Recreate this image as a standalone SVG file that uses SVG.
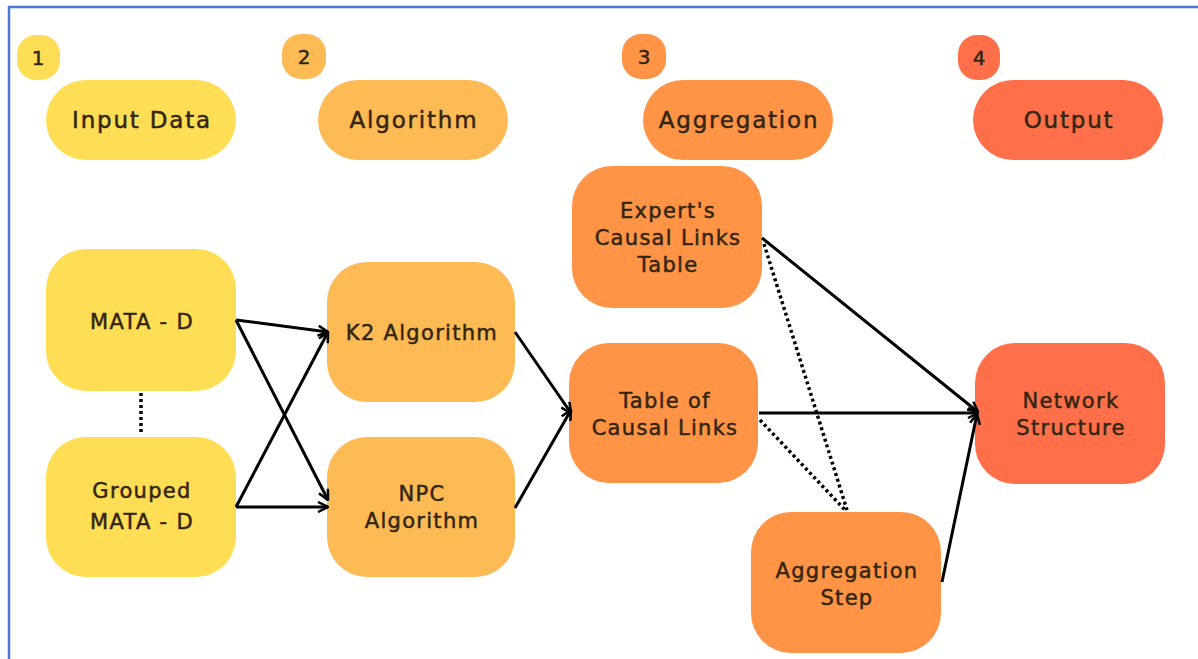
<svg xmlns="http://www.w3.org/2000/svg" width="1198" height="659" viewBox="0 0 1198 659">
<style>
text{font-family:"DejaVu Sans","Open Sans",sans-serif;fill:#33260f;stroke:#33260f;stroke-width:0.5px;text-anchor:middle}
.lbl{font-size:21px;letter-spacing:1.3px}
.hd{font-size:23px;letter-spacing:1.8px}
.num{font-size:20px}
.c1{fill:#ffdd55}.c2{fill:#fdba55}.c3{fill:#ff9447}.c4{fill:#ff704a}
.ln{stroke:#000;stroke-width:3;fill:none}
.dot{stroke:#000;stroke-width:3.5;fill:none;stroke-dasharray:3 3}
</style>
<defs>
<marker id="ar" viewBox="0 0 12 12" refX="11" refY="6" markerWidth="12" markerHeight="12" markerUnits="userSpaceOnUse" orient="auto">
<path d="M1,1 L11,6 L1,11" fill="none" stroke="#000" stroke-width="2.5"/>
</marker>
</defs>
<rect width="1198" height="659" fill="#fff"/>
<path d="M9,659 V7 H1198" fill="none" stroke="#4a78d4" stroke-width="2.5"/>

<g id="badge1"><rect class="c1" x="17" y="35" width="43" height="45" rx="19"/><text class="num" x="38" y="65">1</text></g>
<g id="badge2"><rect class="c2" x="282" y="34" width="44" height="45" rx="19"/><text class="num" x="304" y="64">2</text></g>
<g id="badge3"><rect class="c3" x="622" y="34" width="44" height="45" rx="19"/><text class="num" x="644" y="64">3</text></g>
<g id="badge4"><rect class="c4" x="958" y="35" width="42" height="45" rx="19"/><text class="num" x="979" y="65">4</text></g>

<g id="hInput"><rect class="c1" x="46" y="80" width="190" height="80" rx="40"/><text class="hd" x="142" y="128">Input Data</text></g>
<g id="hAlgorithm"><rect class="c2" x="318" y="80" width="190" height="80" rx="40"/><text class="hd" x="414" y="128">Algorithm</text></g>
<g id="hAggregation"><rect class="c3" x="643" y="80" width="190" height="80" rx="40"/><text class="hd" x="739" y="128">Aggregation</text></g>
<g id="hOutput"><rect class="c4" x="973" y="80" width="190" height="80" rx="40"/><text class="hd" x="1069" y="128">Output</text></g>

<g id="mata"><rect class="c1" x="46" y="249" width="190" height="142" rx="40"/><text class="lbl" x="142" y="329">MATA - D</text></g>
<g id="grouped"><rect class="c1" x="46" y="437" width="190" height="140" rx="40"/><text class="lbl" x="142" y="498">Grouped</text><text class="lbl" x="142" y="529">MATA - D</text></g>
<g id="k2"><rect class="c2" x="327" y="262" width="188" height="140" rx="40"/><text class="lbl" x="422" y="340">K2 Algorithm</text></g>
<g id="npc"><rect class="c2" x="327" y="437" width="188" height="140" rx="40"/><text class="lbl" x="422" y="501">NPC</text><text class="lbl" x="422" y="528">Algorithm</text></g>
<g id="expert"><rect class="c3" x="572" y="166" width="190" height="142" rx="40"/><text class="lbl" x="668" y="218">Expert's</text><text class="lbl" x="668" y="245">Causal Links</text><text class="lbl" x="668" y="272">Table</text></g>
<g id="table"><rect class="c3" x="569" y="343" width="189" height="140" rx="40"/><text class="lbl" x="665" y="408">Table of</text><text class="lbl" x="665" y="435">Causal Links</text></g>
<g id="aggstep"><rect class="c3" x="751" y="512" width="190" height="141" rx="40"/><text class="lbl" x="847" y="578">Aggregation</text><text class="lbl" x="847" y="605">Step</text></g>
<g id="network"><rect class="c4" x="975" y="343" width="190" height="141" rx="40"/><text class="lbl" x="1071" y="408">Network</text><text class="lbl" x="1071" y="435">Structure</text></g>

<g id="connectors">
<path class="dot" d="M141,393 V433"/>
<path class="ln" marker-end="url(#ar)" d="M236,320 L328,332"/>
<path class="ln" marker-end="url(#ar)" d="M236,320 L328,500"/>
<path class="ln" marker-end="url(#ar)" d="M236,507 L328,332"/>
<path class="ln" marker-end="url(#ar)" d="M236,507 L328,507"/>
<path class="ln" marker-end="url(#ar)" d="M515,332 L571,413"/>
<path class="ln" marker-end="url(#ar)" d="M515,508 L571,410"/>
<path class="ln" marker-end="url(#ar)" d="M759,413 L978,413"/>
<path class="ln" marker-end="url(#ar)" d="M762,238 L978,412"/>
<path class="ln" marker-end="url(#ar)" d="M942,582 L977,414"/>
<path class="dot" d="M764,244 L847,510"/>
<path class="dot" d="M760,420 L845,510"/>
</g>
</svg>
